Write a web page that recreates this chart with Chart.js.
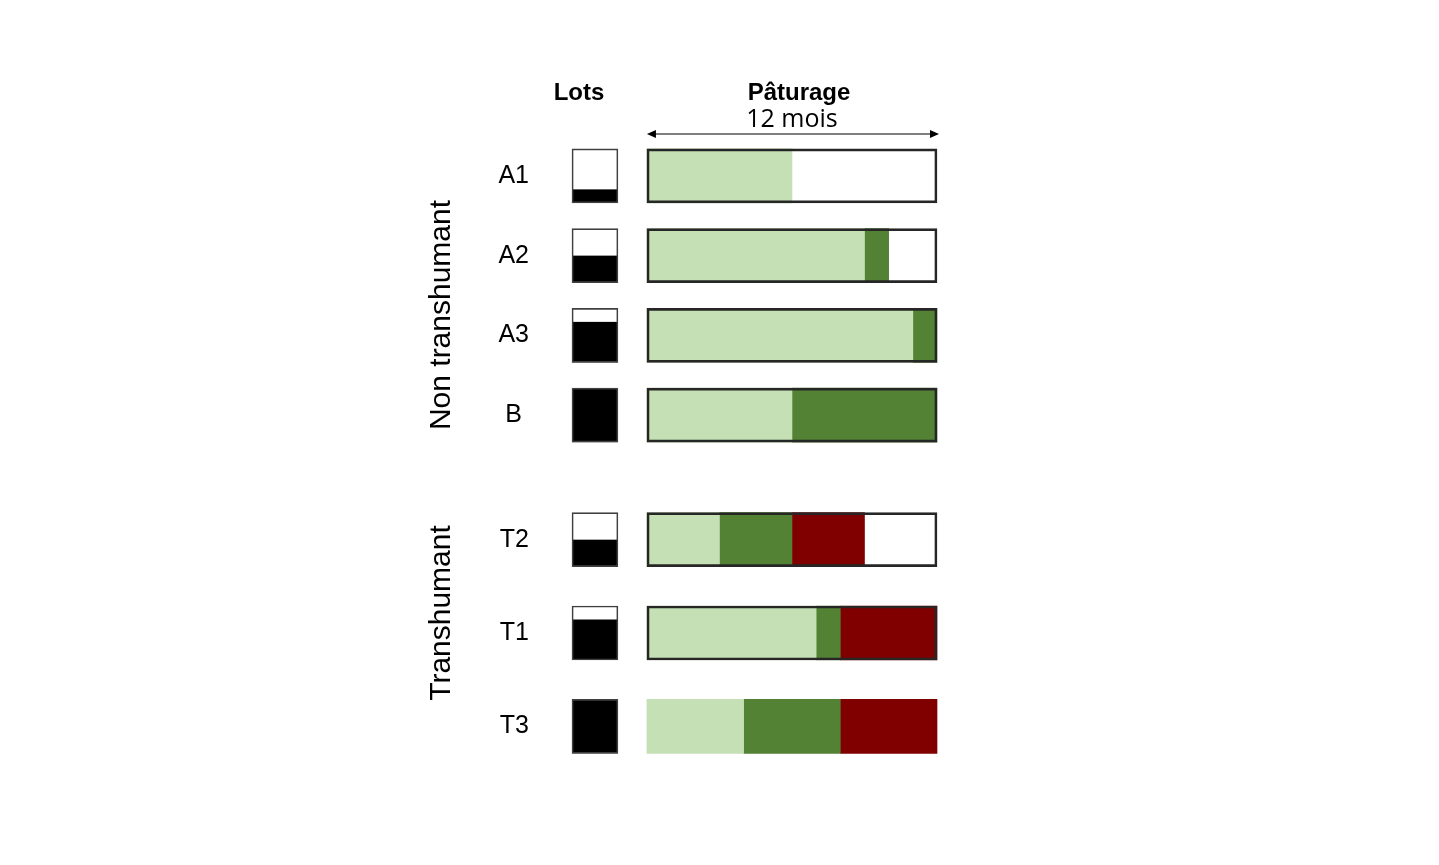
<!DOCTYPE html>
<html>
<head>
<meta charset="utf-8">
<script src="https://cdn.jsdelivr.net/npm/chart.js@4"></script>
<style>
  body { margin: 0; background: #fff; }
  #page { position: relative; width: 1439px; height: 865px; overflow: hidden; font-family: 'Liberation Sans', Arial, sans-serif; color: #000; }
  .box { position: absolute; left: 0; width: 1439px; }
  .txt { position: absolute; white-space: nowrap; transform: translateX(-50%); }
  .grp { position: absolute; white-space: nowrap; font-size: 30px; line-height: 30px; transform: translate(-50%, -50%) rotate(-90deg); }
</style>
</head>
<body>
<div id="page">
  <div class="box" style="top:0;height:513px"><canvas id="nonTrans"></canvas></div>
  <div class="box" style="top:435px;height:430px"><canvas id="trans"></canvas></div>
  <div class="txt" style="left:579px;top:80px;font-size:24px;line-height:24px;font-weight:bold">Lots</div>
  <div class="txt" style="left:799px;top:80px;font-size:24px;line-height:24px;font-weight:bold">Pâturage</div>
  <div class="txt" style="left:792px;top:105px;font-size:25px;line-height:25px;font-family:'Open Sans',sans-serif">12 mois</div>
  <div class="grp" style="left:440px;top:315px">Non transhumant</div>
  <div class="grp" style="left:440px;top:613px">Transhumant</div>
</div>
<script>
'use strict';

// lots non transhumants
let lotsNon = ['A1', 'A2', 'A3', 'B'];
let partNon = [0.25, 0.5, 0.75, 1];
let vertNon = [6, 9, 11, 6];
let foncNon = [0, 1, 1, 6];
let rougeNon = [0, 0, 0, 0];

// lots transhumants
let lotsTrans = ['T2', 'T1', 'T3'];
let partTrans = [0.5, 0.75, 1];
let vertTrans = [3, 7, 4];
let foncTrans = [3, 1, 4];
let rougeTrans = [3, 4, 4];

let totalMois = 12;
let cadreTrans = [true, true, false];

// where the lot box sits on the month axis
let lotDebut = -3.1;
let lotFin = -1.2;

let lotFill = {
    id: 'lotFill',
    afterDatasetDraw(chart, args) {
        let ds = chart.data.datasets[args.index];
        if (!ds.parts) return;
        let ctx = chart.ctx;
        ctx.save();
        ctx.fillStyle = '#000';
        args.meta.data.forEach((bar, i) => {
            let p = bar.getProps(['x', 'y', 'base', 'height'], true);
            let left = Math.min(p.x, p.base);
            let w = Math.abs(p.x - p.base);
            let h = p.height * ds.parts[i];
            ctx.fillRect(left, p.y + p.height / 2 - h, w, h);
        });
        ctx.restore();
    }
};

let arrow = {
    id: 'arrow',
    afterDraw(chart) {
        if (chart.canvas.id !== 'nonTrans') return;
        let sx = chart.scales.x;
        let a = sx.getPixelForValue(0);
        let b = sx.getPixelForValue(totalMois) + 2;
        let y = 134;
        let ctx = chart.ctx;
        ctx.save();
        ctx.strokeStyle = '#000';
        ctx.fillStyle = '#000';
        ctx.lineWidth = 1;
        ctx.beginPath();
        ctx.moveTo(a + 4, y);
        ctx.lineTo(b - 4, y);
        ctx.stroke();
        ctx.beginPath();
        ctx.moveTo(a, y);
        ctx.lineTo(a + 9, y - 4);
        ctx.lineTo(a + 9, y + 4);
        ctx.fill();
        ctx.beginPath();
        ctx.moveTo(b, y);
        ctx.lineTo(b - 9, y - 4);
        ctx.lineTo(b - 9, y + 4);
        ctx.fill();
        ctx.restore();
    }
};

function segments(start, len) {
    return start.map((s, i) => len[i] > 0 ? [s, s + len[i]] : null);
}

function makeChart(id, labels, parts, vert, fonc, rouge, cadre, padTop, padBottom) {
    let s1 = vert.map(() => 0);
    let s2 = vert.map((v) => v);
    let s3 = vert.map((v, i) => v + fonc[i]);

    let datasets = [
        {   // pasture frame
            data: labels.map(() => [0, totalMois]),
            backgroundColor: 'rgba(0,0,0,0)',
            borderColor: cadre.map((c) => c ? '#262626' : 'rgba(0,0,0,0)'),
            borderWidth: 2,
            order: 0
        },
        {   // lot box frame
            data: labels.map(() => [lotDebut, lotFin]),
            backgroundColor: 'rgba(0,0,0,0)',
            borderColor: '#404040',
            borderWidth: 1,
            order: 0
        },
        {
            data: labels.map(() => [lotDebut, lotFin]),
            parts: parts,
            backgroundColor: '#ffffff',
            order: 2
        },
        { data: segments(s1, vert), backgroundColor: '#C5E0B4', order: 2 },
        { data: segments(s2, fonc), backgroundColor: '#548235', order: 2 },
        { data: segments(s3, rouge), backgroundColor: '#800000', order: 2 }
    ];
    datasets.forEach((d) => {
        d.grouped = false;
        d.barThickness = 54;
        d.borderSkipped = false;
        d.clip = false;
        if (d.borderWidth === undefined) d.borderWidth = 0;
    });

    return new Chart(document.getElementById(id), {
        type: 'bar',
        data: { labels: labels, datasets: datasets },
        plugins: [lotFill, arrow],
        options: {
            indexAxis: 'y',
            responsive: true,
            maintainAspectRatio: false,
            animation: false,
            layout: { padding: { left: 422, right: 502, top: padTop, bottom: padBottom } },
            plugins: { legend: { display: false }, tooltip: { enabled: false } },
            scales: {
                x: { type: 'linear', min: lotDebut, max: totalMois, display: false },
                y: {
                    type: 'category',
                    grid: { display: false, drawTicks: false },
                    border: { display: false },
                    ticks: {
                        color: '#000',
                        padding: 43,
                        crossAlign: 'center',
                        font: { family: "'Liberation Sans', Arial, sans-serif", size: 25 }
                    },
                    afterFit(s) { s.width = 150; }
                }
            }
        }
    });
}

makeChart('nonTrans', lotsNon, partNon, vertNon, foncNon, rougeNon, lotsNon.map(() => true), 136, 57);
makeChart('trans', lotsTrans, partTrans, vertTrans, foncTrans, rougeTrans, cadreTrans, 57, 92);
</script>
</body>
</html>
